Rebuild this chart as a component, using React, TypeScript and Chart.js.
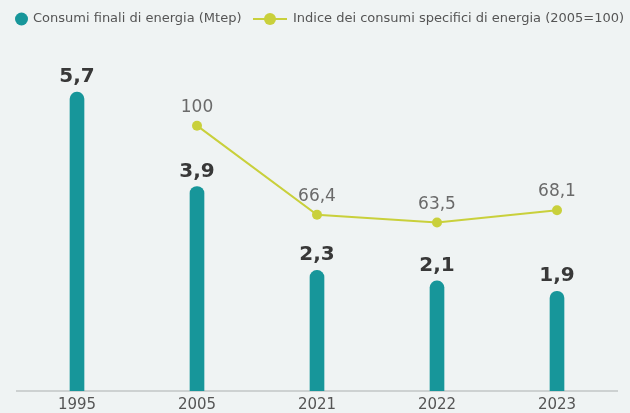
import React, { useEffect, useRef } from "react";
import { Chart, registerables } from "chart.js";

Chart.register(...registerables);

// ---- data ----
const categories = ["1995", "2005", "2021", "2022", "2023"];
const consumi = [5.7, 3.9, 2.3, 2.1, 1.9];
const indice: (number | null)[] = [null, 100, 66.4, 63.5, 68.1];
const consumiLabel = "Consumi finali di energia (Mtep)";
const indiceLabel = "Indice dei consumi specifici di energia (2005=100)";

// ---- styles ----
const TEAL = "#17969a";
const LIME = "#c9d03b";
const BG = "#eff3f3";
const FONT = '"DejaVu Sans", Verdana, sans-serif';

const fmtBar = (v: number) => v.toFixed(1).replace(".", ",");
const fmtIdx = (v: number) =>
  Number.isInteger(v) ? String(v) : v.toFixed(1).replace(".", ",");

const bgPlugin = {
  id: "bgFill",
  beforeDraw(chart: any) {
    const { ctx, width, height } = chart;
    ctx.save();
    ctx.fillStyle = BG;
    ctx.fillRect(0, 0, width, height);
    ctx.restore();
  },
};

const valueLabelPlugin = {
  id: "valueLabels",
  afterDatasetsDraw(chart: any) {
    const ctx = chart.ctx;
    ctx.save();
    ctx.textAlign = "center";
    ctx.textBaseline = "alphabetic";
    const barMeta = chart.getDatasetMeta(0);
    ctx.font = `bold 20px ${FONT}`;
    ctx.fillStyle = "#383838";
    barMeta.data.forEach((el: any, i: number) => {
      const v = chart.data.datasets[0].data[i];
      if (v == null) return;
      ctx.fillText(fmtBar(v), el.x, el.y - 10);
    });
    const lineMeta = chart.getDatasetMeta(1);
    ctx.font = `17px ${FONT}`;
    ctx.fillStyle = "#6a6a6a";
    lineMeta.data.forEach((el: any, i: number) => {
      const v = chart.data.datasets[1].data[i];
      if (v == null) return;
      ctx.fillText(fmtIdx(v), el.x, el.y - 14);
    });
    ctx.restore();
  },
};

const legendPlugin = {
  id: "customLegend",
  afterDraw(chart: any) {
    const ctx = chart.ctx;
    const y = 19;
    ctx.save();
    ctx.font = `13px ${FONT}`;
    ctx.textBaseline = "middle";
    ctx.textAlign = "left";
    // item 1: teal dot
    ctx.beginPath();
    ctx.arc(21.5, y, 6.5, 0, Math.PI * 2);
    ctx.fillStyle = TEAL;
    ctx.fill();
    ctx.fillStyle = "#555555";
    ctx.fillText(chart.data.datasets[0].label, 33, y);
    // item 2: line with dot
    ctx.beginPath();
    ctx.moveTo(253, y);
    ctx.lineTo(287, y);
    ctx.strokeStyle = LIME;
    ctx.lineWidth = 2;
    ctx.stroke();
    ctx.beginPath();
    ctx.arc(270, y, 6, 0, Math.PI * 2);
    ctx.fillStyle = LIME;
    ctx.fill();
    ctx.fillStyle = "#555555";
    ctx.fillText(chart.data.datasets[1].label, 293, y);
    ctx.restore();
  },
};

export default function App() {
  const canvasRef = useRef<HTMLCanvasElement | null>(null);

  useEffect(() => {
    document.body.style.margin = "0";
    document.body.style.background = BG;
    const canvas = canvasRef.current;
    if (!canvas) return;
    Chart.defaults.font.family = FONT;
    const chart = new Chart(canvas, {
      type: "bar",
      data: {
        labels: categories,
        datasets: [
          {
            type: "bar",
            label: consumiLabel,
            data: consumi,
            backgroundColor: TEAL,
            barThickness: 14,
            borderRadius: { topLeft: 7, topRight: 7, bottomLeft: 0, bottomRight: 0 },
            borderSkipped: "bottom",
            yAxisID: "y",
            order: 1,
          } as any,
          {
            type: "line",
            label: indiceLabel,
            data: indice,
            borderColor: LIME,
            backgroundColor: LIME,
            borderWidth: 2,
            pointRadius: 5,
            pointBackgroundColor: LIME,
            pointBorderWidth: 0,
            tension: 0,
            spanGaps: false,
            yAxisID: "y1",
            order: 0,
          } as any,
        ],
      },
      options: {
        responsive: false,
        animation: false,
        devicePixelRatio: 1,
        layout: { padding: { top: 45, left: 17, right: 13, bottom: 0 } },
        plugins: {
          legend: { display: false },
          tooltip: { enabled: false },
        },
        scales: {
          x: {
            grid: { display: false, drawTicks: false },
            border: { display: true, color: "#cdd1d1", width: 2 },
            ticks: {
              font: { family: FONT, size: 15 },
              color: "#555555",
              padding: 5,
            },
            afterFit: (scale: any) => {
              scale.height = 22;
            },
          },
          y: { display: false, min: 0, max: 6.6 },
          y1: { display: false, min: 0, max: 130.4, position: "right" },
        },
      },
      plugins: [bgPlugin, valueLabelPlugin, legendPlugin],
    });
    return () => chart.destroy();
  }, []);

  return (
    <div style={{ width: 630, height: 413, background: BG }}>
      <canvas ref={canvasRef} width={630} height={413} style={{ display: "block" }} />
    </div>
  );
}
